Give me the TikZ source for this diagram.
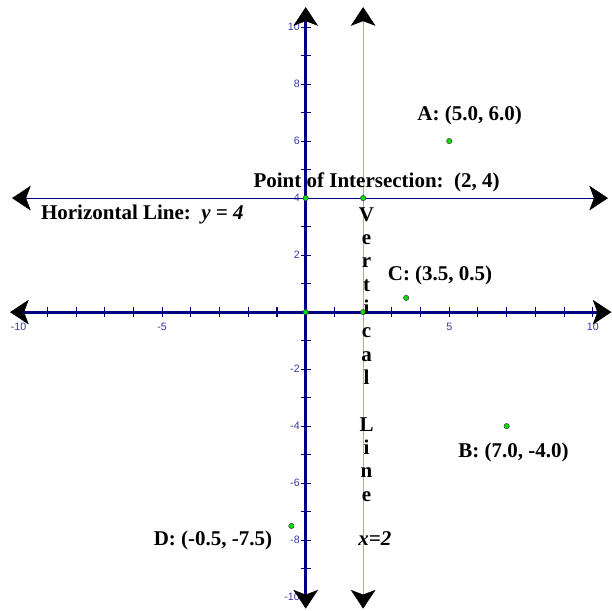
\documentclass[tikz,border=0pt]{standalone}
\usepackage{fontspec}
\setmainfont{Liberation Serif}
\newfontfamily\ticksfont{Liberation Sans}
\usetikzlibrary{arrows.meta}
\definecolor{axisblue}{RGB}{0,0,128}
\definecolor{ticklbl}{RGB}{55,55,170}
\definecolor{vline}{RGB}{165,165,205}
\definecolor{ptgreen}{RGB}{0,225,0}

\begin{document}
\begin{tikzpicture}[x=21.525pt,y=21.375pt,
  >={Stealth[length=14pt,width=18.5pt,inset=3.5pt,color=black,line width=0.4pt]},
  lbl/.style={font=\fontsize{15.75}{17.5}\selectfont\bfseries,inner sep=0pt},
  num/.style={font=\ticksfont\fontsize{8}{9}\selectfont,text=ticklbl,inner sep=0pt},
  pt/.style={circle,draw=black!75,fill=ptgreen,line width=0.4pt,inner sep=0pt,minimum size=4pt}]
  \useasboundingbox (-10.65,-10.46) rectangle (10.67,10.95);
  % ends of the lines
  \coordinate (xl) at (-10.3,0);
  \coordinate (xr) at (10.65,0);
  \coordinate (yb) at (0,-10.4);
  \coordinate (yt) at (0,10.7);
  \coordinate (hl) at (-10.23,4);
  \coordinate (hr) at (10.53,4);
  \coordinate (vb) at (2,-10.4);
  \coordinate (vt) at (2,10.7);
  % tick labels
  \foreach \v in {-10,-8,-6,-4,-2,2,4,6,8,10}{\node[num,anchor=east] (ly\v) at (-0.2,\v) {\v};}
  \foreach \v in {-10,-5,5,10}{\node[num,anchor=north] (lx\v) at (\v,-0.38) {\v};}
  % ticks
  \foreach \v in {-10,...,10}{
    \draw[axisblue,line width=0.8pt] (\v,-0.17) -- (\v,0.17);
    \draw[axisblue,line width=0.8pt] (-0.17,\v) -- (0.17,\v);}
  % lines
  \draw[vline,line width=0.6pt,<->] (vb) -- (vt);
  \draw[axisblue,line width=0.8pt,<->] (hl) -- (hr);
  \draw[axisblue,line width=2.2pt,<->] (xl) -- (xr);
  \draw[axisblue,line width=2.2pt,<->] (yb) -- (yt);
  % points
  \node[pt] (o) at (0,0) {};
  \node[pt] (p) at (2,4) {};
  \node[pt] (q) at (0,4) {};
  \node[pt] (r) at (2,0) {};
  \node[pt] (a) at (5,6) {};
  \node[pt] (b) at (7,-4) {};
  \node[pt] (c) at (3.5,0.5) {};
  \node[pt] (d) at (-0.5,-7.5) {};
  % texts
  \node[lbl] (la) at (5.71,6.91) {A: (5.0, 6.0)};
  \node[lbl] (lb) at (7.24,-4.91) {B: (7.0, -4.0)};
  \node[lbl] (lc) at (4.68,1.30) {C: (3.5, 0.5)};
  \node[lbl] (ld) at (-3.23,-8.0) {D: (-0.5, -7.5)};
  \node[lbl] (lp) at (2.47,4.56) {Point of Intersection:\ \ (2, 4)};
  \node[lbl] (lh) at (-5.69,3.44) {Horizontal Line:\ \ \textit{y = 4}};
  \node[lbl,align=center,anchor=north] (lv) at (2.12,3.68) {V\\e\\r\\t\\i\\c\\a\\l\\[17.5pt]L\\i\\n\\e};
  \node[lbl] (lx) at (2.41,-7.96) {\textit{x=2}};
\end{tikzpicture}
\end{document}
